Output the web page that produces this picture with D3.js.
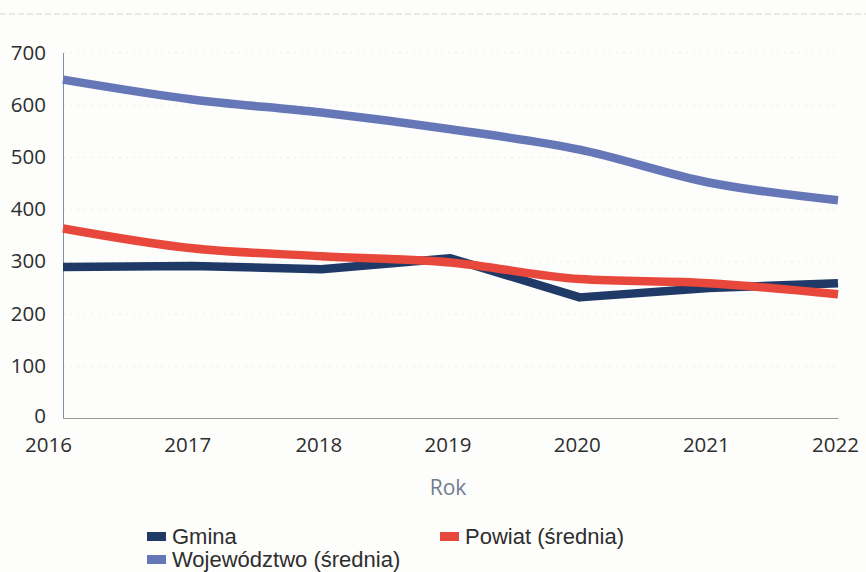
<!DOCTYPE html>
<html>
<head>
<meta charset="utf-8">
<script src="https://cdn.jsdelivr.net/npm/d3@7"></script>
<style>
  body { margin: 0; background: #fdfdfb; }
  svg { display: block; }
</style>
</head>
<body>
<svg id="chart" width="866" height="572"></svg>
<script>
(function() {
    'use strict';

    var years = [2016, 2017, 2018, 2019, 2020, 2021, 2022];
    var gmina = [289, 291, 285, 306, 231, 249, 258];
    var powiat = [363, 325, 310, 298, 266, 258, 237];
    var wojewodztwo = [648, 610, 585, 553, 514, 451, 417];
    var yTicks = [0, 100, 200, 300, 400, 500, 600, 700];

    var series = [
        {name: 'Województwo (średnia)', values: wojewodztwo, color: '#6677b8', curve: d3.curveMonotoneX},
        {name: 'Gmina', values: gmina, color: '#1f3a66', curve: d3.curveLinear},
        {name: 'Powiat (średnia)', values: powiat, color: '#e8473b', curve: d3.curveMonotoneX}
    ];

    var svg = d3.select('#chart');

    var x = d3.scaleLinear()
        .domain([2016, 2022])
        .range([63, 838]);
    var y = d3.scaleLinear()
        .domain([0, 700])
        .range([418, 52.5]);

    // scan border at top
    svg.append('line')
        .attr('x1', 0).attr('x2', 866)
        .attr('y1', 14).attr('y2', 14)
        .attr('stroke', '#d4d4d4')
        .attr('stroke-dasharray', '6,3');

    // faint gridlines
    var grid = d3.axisLeft(y)
        .tickValues(yTicks.slice(1))
        .tickFormat('')
        .tickSize(-(x.range()[1] - x.range()[0]))
        .tickSizeOuter(0);
    svg.append('g')
        .attr('class', 'grid')
        .attr('transform', 'translate(63,0)')
        .call(grid)
        .call(function(g) {
            g.select('.domain').remove();
            g.selectAll('line').attr('stroke', '#ececec').attr('stroke-dasharray', '2,5');
        });

    // y axis
    var yAxis = d3.axisLeft(y)
        .tickValues(yTicks)
        .tickSize(0)
        .tickPadding(17);
    svg.append('g')
        .attr('class', 'y axis')
        .attr('transform', 'translate(63,0)')
        .call(yAxis)
        .call(function(g) {
            g.select('.domain').attr('stroke', '#7f8fa6');
            g.selectAll('text')
                .attr('font-family', 'Open Sans')
                .attr('font-size', 20.5)
                .attr('fill', '#2e2e2e')
                .attr('y', function(d) { return d === 0 ? -2 : 0; });
        });

    // x axis
    var xAxis = d3.axisBottom(x)
        .tickValues(years)
        .tickFormat(d3.format('d'))
        .tickSize(0)
        .tickPadding(19);
    svg.append('g')
        .attr('class', 'x axis')
        .attr('transform', 'translate(0,418)')
        .call(xAxis)
        .call(function(g) {
            g.select('.domain').attr('stroke', '#999');
            g.selectAll('text')
                .attr('font-family', 'Open Sans')
                .attr('font-size', 20.5)
                .attr('fill', '#2e2e2e')
                .attr('dx', function(d) { return d === 2016 ? -15 : (d === 2017 ? -5 : -3); });
        });

    svg.append('text')
        .attr('x', 448)
        .attr('y', 495)
        .attr('text-anchor', 'middle')
        .attr('font-family', 'Open Sans')
        .attr('font-size', 21)
        .attr('fill', '#6f7d90')
        .text('Rok');

    // lines
    series.forEach(function(s) {
        var line = d3.line()
            .x(function(d, i) { return x(years[i]); })
            .y(function(d) { return y(d); })
            .curve(s.curve);
        svg.append('path')
            .datum(s.values)
            .attr('fill', 'none')
            .attr('stroke', s.color)
            .attr('stroke-width', 8.5)
            .attr('stroke-linejoin', 'round')
            .attr('d', line);
    });

    // legend
    var legendItems = [
        {name: 'Gmina', color: '#1f3a66', x: 147, y: 544},
        {name: 'Powiat (średnia)', color: '#e8473b', x: 440, y: 544},
        {name: 'Województwo (średnia)', color: '#6677b8', x: 147, y: 567}
    ];
    var legend = svg.append('g').attr('class', 'legend');
    legendItems.forEach(function(d) {
        legend.append('rect')
            .attr('x', d.x)
            .attr('y', d.y - 12)
            .attr('width', 19)
            .attr('height', 9)
            .attr('fill', d.color);
        legend.append('text')
            .attr('x', d.x + 25)
            .attr('y', d.y)
            .attr('font-family', 'Liberation Sans')
            .attr('font-size', 22)
            .attr('fill', '#2e2e2e')
            .text(d.name);
    });
})();
</script>
</body>
</html>
